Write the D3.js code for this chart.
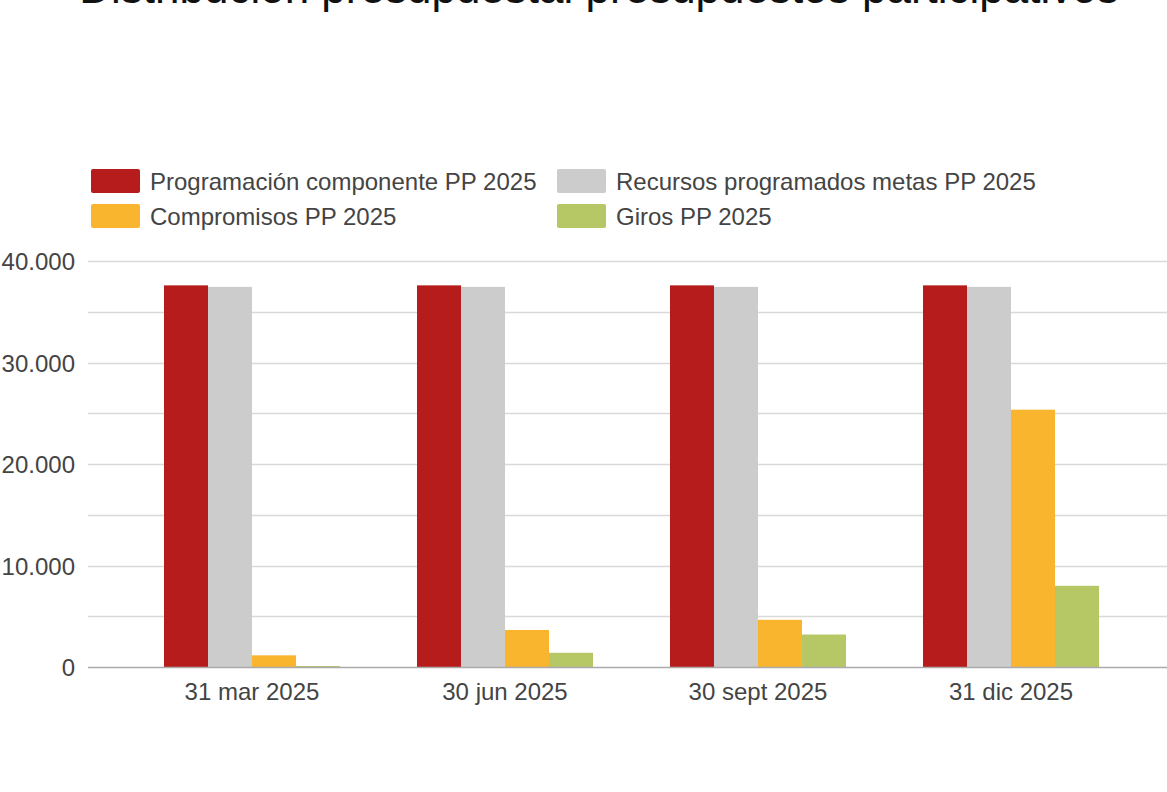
<!DOCTYPE html>
<html>
<head>
<meta charset="utf-8">
<script src="https://cdn.jsdelivr.net/npm/d3@7"></script>
<style>
  body { margin: 0; background: #fff; }
  svg { display: block; font-family: Arial, "Liberation Sans", sans-serif; }
</style>
</head>
<body>
<div id="chart"></div>
<script>
var width = 1167
var height = 792

// data
var categories = ["31 mar 2025", "30 jun 2025", "30 sept 2025", "31 dic 2025"]
var seriesNames = ["Programación componente PP 2025", "Recursos programados metas PP 2025", "Compromisos PP 2025", "Giros PP 2025"]
var seriesColors = ["#b71c1c", "#cccccc", "#f9b52d", "#b6c766"]
var programacion = [37600, 37600, 37600, 37600]
var recursos = [37450, 37450, 37450, 37450]
var compromisos = [1150, 3650, 4650, 25350]
var giros = [100, 1400, 3200, 8000]
var yTicks = [0, 10000, 20000, 30000, 40000]
var yGrid = [5000, 10000, 15000, 20000, 25000, 30000, 35000, 40000]

var seriesValues = [programacion, recursos, compromisos, giros]

var locale = d3.formatLocale({decimal: ",", thousands: ".", grouping: [3], currency: ["$", ""]})
var fmt = locale.format(",")

var svg = d3.select("#chart").append("svg")
    .attr("width", width)
    .attr("height", height)

// title, mostly cropped at the top like in the original
svg.append("text")
    .attr("x", 599)
    .attr("y", 3)
    .attr("text-anchor", "middle")
    .attr("font-size", "44px")
    .attr("fill", "#111")
    .text("Distribución presupuestal presupuestos participativos")

// legend
var legend = svg.append("g")
var legendPos = [[91, 169], [557, 169], [91, 204], [557, 204]]
seriesNames.forEach(function(name, i) {
    var g = legend.append("g").attr("transform", "translate(" + legendPos[i][0] + "," + legendPos[i][1] + ")")
    g.append("rect")
        .attr("width", 49)
        .attr("height", 24)
        .attr("rx", 2)
        .attr("fill", seriesColors[i])
    g.append("text")
        .attr("x", 59)
        .attr("y", 21)
        .attr("font-size", "24px")
        .attr("fill", "#444")
        .text(name)
})

// scales
var plotLeft = 88, plotRight = 1167
var yScale = d3.scaleLinear().domain([0, 40000]).range([667, 261])
var x0 = d3.scaleBand().domain(categories).range([125.5, 1137.5]).padding(0)
var x1 = d3.scaleBand().domain(d3.range(seriesNames.length))
    .range([0, x0.bandwidth()])
    .paddingInner(0)
    .paddingOuter(0.875)

// gridlines
svg.append("g").selectAll("line")
    .data(yGrid)
    .enter()
    .append("line")
    .attr("x1", plotLeft)
    .attr("x2", plotRight)
    .attr("y1", function(d) { return Math.round(yScale(d)) + 0.5 })
    .attr("y2", function(d) { return Math.round(yScale(d)) + 0.5 })
    .attr("stroke", "#d9d9d9")
    .attr("stroke-width", 1.5)

// y labels
svg.append("g").selectAll("text")
    .data(yTicks)
    .enter()
    .append("text")
    .attr("x", 75)
    .attr("y", function(d) { return yScale(d) + 9 })
    .attr("text-anchor", "end")
    .attr("font-size", "24px")
    .attr("fill", "#444")
    .text(function(d) { return fmt(d) })

// bars
var groups = svg.append("g").selectAll("g")
    .data(categories)
    .enter()
    .append("g")
    .attr("transform", function(d) { return "translate(" + x0(d) + ",0)" })

groups.selectAll("rect")
    .data(function(d, ci) { return seriesValues.map(function(vals, si) { return {s: si, v: vals[ci]} }) })
    .enter()
    .append("rect")
    .attr("x", function(d) { return x1(d.s) })
    .attr("width", x1.bandwidth())
    .attr("y", function(d) { return yScale(d.v) })
    .attr("height", function(d) { return yScale(0) - yScale(d.v) })
    .attr("fill", function(d) { return seriesColors[d.s] })

// baseline
svg.append("line")
    .attr("x1", plotLeft)
    .attr("x2", plotRight)
    .attr("y1", yScale(0) + 0.5)
    .attr("y2", yScale(0) + 0.5)
    .attr("stroke", "#aaa")
    .attr("stroke-width", 1.5)

// x labels
svg.append("g").selectAll("text")
    .data(categories)
    .enter()
    .append("text")
    .attr("x", function(d) { return x0(d) + x0.bandwidth() / 2 })
    .attr("y", 700)
    .attr("text-anchor", "middle")
    .attr("font-size", "24px")
    .attr("fill", "#444")
    .text(function(d) { return d })
</script>
</body>
</html>
